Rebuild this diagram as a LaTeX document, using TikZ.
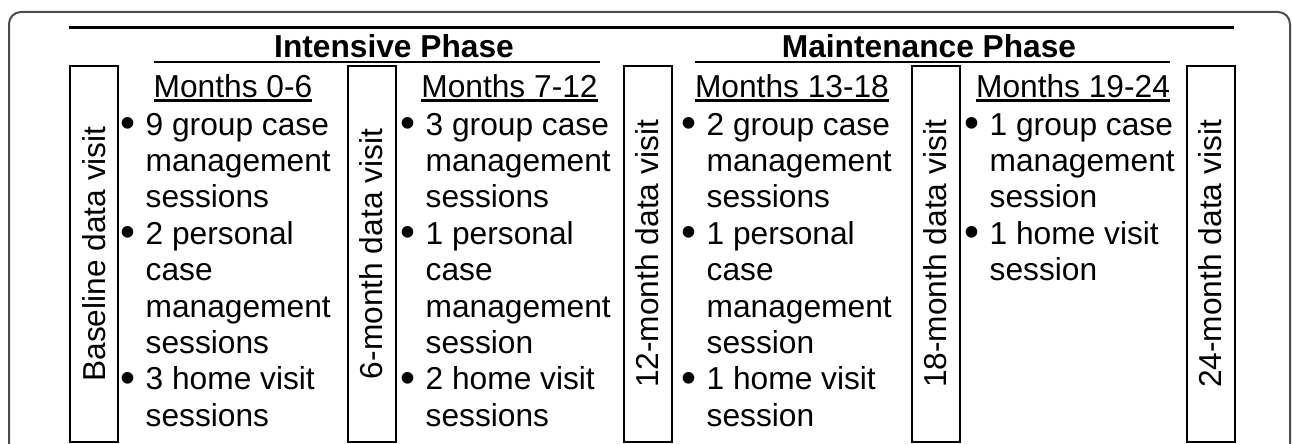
\documentclass[tikz,border=0pt]{standalone}
\usepackage{fontspec}
\setmainfont{Liberation Sans}

% bullet with a hanging indent, and the matching indent for follow-on lines
\newcommand{\bul}{\makebox[24pt][l]{\hspace*{-1pt}\raisebox{-2.5pt}{\scalebox{1.35}{\textbullet}}}}
\newcommand{\ind}{\hspace*{24pt}}

\tikzset{
  body/.style={font=\fontsize{31.7}{36.4}\selectfont, inner sep=0pt},
  phase/.style={body, font=\fontsize{31.7}{36.4}\selectfont\bfseries, anchor=base},
  months/.style={body, anchor=base},
  visitbox/.style={body, draw, line width=2pt, rotate=90,
    minimum width=376pt, minimum height=48pt},
  items/.style={body, align=left, anchor=north west},
  rule/.style={line width=2.5pt},
}

\begin{document}
\begin{tikzpicture}[x=1pt, y=-1pt]
  \useasboundingbox (0,0) rectangle (1292,444);
  \clip (0,0) rectangle (1292,444);

  % frame, open at the bottom
  \draw[black!70, line width=2pt, rounded corners=12pt]
    (9,470) -- (9,12) -- (1290,12) -- (1290,470);

  % phase row
  \draw[line width=3pt] (69,28) -- (1234,28);
  \node[phase] (intensive) at (394,57) {Intensive Phase};
  \node[phase] (maint) at (929,57) {Maintenance Phase};
  \draw[rule] (154,62) -- (600,62);
  \draw[rule] (695,62) -- (1170,62);

  % data visits
  \node[visitbox] (v0)  at (94,254)    {Baseline data visit};
  \node[visitbox] (v6)  at (371.5,254) {6-month data visit};
  \node[visitbox] (v12) at (647.5,254) {12-month data visit};
  \node[visitbox] (v18) at (935.5,254) {18-month data visit};
  \node[visitbox] (v24) at (1210.5,254) {24-month data visit};

  % month headings
  \node[months] (m1) at (233,97)    {Months 0-6};
  \node[months] (m2) at (509.5,97)  {Months 7-12};
  \node[months] (m3) at (792,97)    {Months 13-18};
  \node[months] (m4) at (1073,97)   {Months 19-24};
  \foreach \m in {m1,m2,m3,m4}
    \draw[rule] ([yshift=-3.5pt]\m.base west) -- ([yshift=-3.5pt]\m.base east);

  % sessions per period
  \node[items] (s1) at (121.5,109.5) {\strut\bul 9 group case\\ \ind management\\ \ind sessions\\
    \bul 2 personal\\ \ind case\\ \ind management\\ \ind sessions\\
    \bul 3 home visit\\ \ind sessions};
  \node[items] (s2) at (401.5,109.5) {\strut\bul 3 group case\\ \ind management\\ \ind sessions\\
    \bul 1 personal\\ \ind case\\ \ind management\\ \ind session\\
    \bul 2 home visit\\ \ind sessions};
  \node[items] (s3) at (682.5,109.5) {\strut\bul 2 group case\\ \ind management\\ \ind sessions\\
    \bul 1 personal\\ \ind case\\ \ind management\\ \ind session\\
    \bul 1 home visit\\ \ind session};
  \node[items] (s4) at (965.5,109.5) {\strut\bul 1 group case\\ \ind management\\ \ind session\\
    \bul 1 home visit\\ \ind session};
\end{tikzpicture}
\end{document}
